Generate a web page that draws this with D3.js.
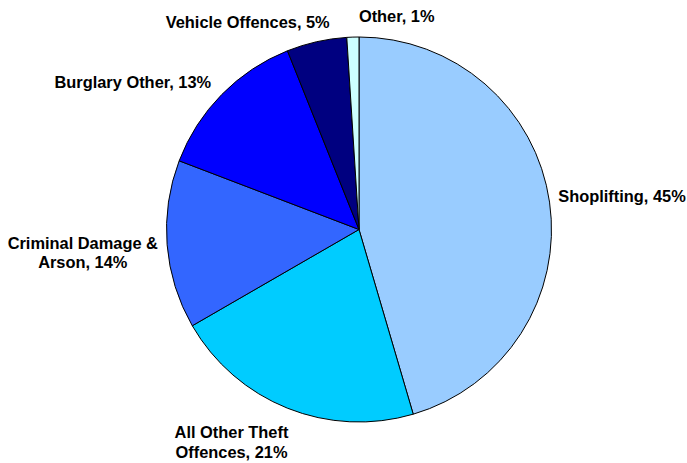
<!DOCTYPE html>
<html>
<head>
<meta charset="utf-8">
<script src="https://cdn.jsdelivr.net/npm/d3@7"></script>
<style>
  html, body { margin: 0; padding: 0; background: #fff; }
  svg { display: block; }
  .lbl { font-family: "Liberation Sans", Arial, sans-serif; font-weight: bold; font-size: 16.4px; fill: #000; }
</style>
</head>
<body>
<svg id="chart" width="687" height="463"></svg>
<script>
// Offence categories, share of total (%)
const categories = ["Shoplifting", "All Other Theft Offences", "Criminal Damage & Arson", "Burglary Other", "Vehicle Offences", "Other"];
const values = [45, 21, 14, 13, 5, 1];
const colors = ["#99CCFF", "#00CCFF", "#3366FF", "#0000FF", "#000080", "#CCFFFF"];

// Label text lines and their placement (centre x, first baseline y)
const labelLines = [
  ["Shoplifting, 45%"],
  ["All Other Theft", "Offences, 21%"],
  ["Criminal Damage &", "Arson, 14%"],
  ["Burglary Other, 13%"],
  ["Vehicle Offences, 5%"],
  ["Other, 1%"]
];
const labelPos = [
  [622, 201.7],
  [231.5, 438.3],
  [82.8, 249.3],
  [132.8, 87.7],
  [247.7, 28.3],
  [396.7, 22]
];
const lineHeight = [0, 20, 19, 0, 0, 0];

const svg = d3.select("#chart");
const cx = 359, cy = 229.5, radius = 192.5;

const pie = d3.pie().sort(null).value(d => d.value);
const arc = d3.arc().innerRadius(0).outerRadius(radius);

const data = categories.map((c, i) => ({ name: c, value: values[i], color: colors[i] }));

const g = svg.append("g").attr("transform", `translate(${cx},${cy})`);
g.selectAll("path")
  .data(pie(data))
  .join("path")
  .attr("d", arc)
  .attr("fill", d => d.data.color)
  .attr("stroke", "#000")
  .attr("stroke-width", 1)
  .attr("stroke-linejoin", "round");

labelLines.forEach((lines, i) => {
  const t = svg.append("text")
    .attr("class", "lbl")
    .attr("text-anchor", "middle")
    .attr("x", labelPos[i][0])
    .attr("y", labelPos[i][1]);
  lines.forEach((ln, j) => {
    t.append("tspan")
      .attr("x", labelPos[i][0])
      .attr("dy", j === 0 ? 0 : lineHeight[i])
      .text(ln);
  });
});
</script>
</body>
</html>
